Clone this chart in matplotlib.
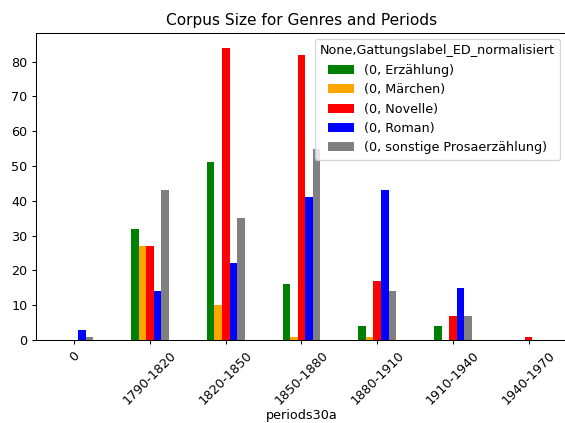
import numpy as np
import matplotlib
matplotlib.use("Agg")
import matplotlib.pyplot as plt

periods = ["0", "1790-1820", "1820-1850", "1850-1880", "1880-1910", "1910-1940", "1940-1970"]
genres = ["(0, Erzählung)", "(0, Märchen)", "(0, Novelle)", "(0, Roman)", "(0, sonstige Prosaerzählung)"]
colors = ["green", "orange", "red", "blue", "grey"]

erzaehlung = [0, 32, 51, 16, 4, 4, 0]
maerchen = [0, 27, 10, 1, 1, 0, 0]
novelle = [0, 27, 84, 82, 17, 7, 1]
roman = [3, 14, 22, 41, 43, 15, 0]
sonstige = [1, 43, 35, 55, 14, 7, 0]

series = [erzaehlung, maerchen, novelle, roman, sonstige]

dpi = 92
fig = plt.figure(figsize=(565 / dpi, 423 / dpi), dpi=dpi)
ax = fig.add_axes([0.0646, 0.1962, 0.938, 0.7258])

x = np.arange(len(periods))
w = 0.1
for i, (vals, lab, col) in enumerate(zip(series, genres, colors)):
    ax.bar(x + (i - 2) * w, vals, width=w, color=col, label=lab)

ax.set_xlim(-0.5, len(periods) - 0.5)
ax.set_ylim(0, 88.2)
ax.set_xticks(x)
ax.set_xticklabels(periods, rotation=45)
ax.set_xlabel("periods30a", labelpad=1.5)
ax.set_title("Corpus Size for Genres and Periods")
ax.legend(title="None,Gattungslabel_ED_normalisiert", loc="upper right")

fig.savefig("out.png", dpi=dpi)
